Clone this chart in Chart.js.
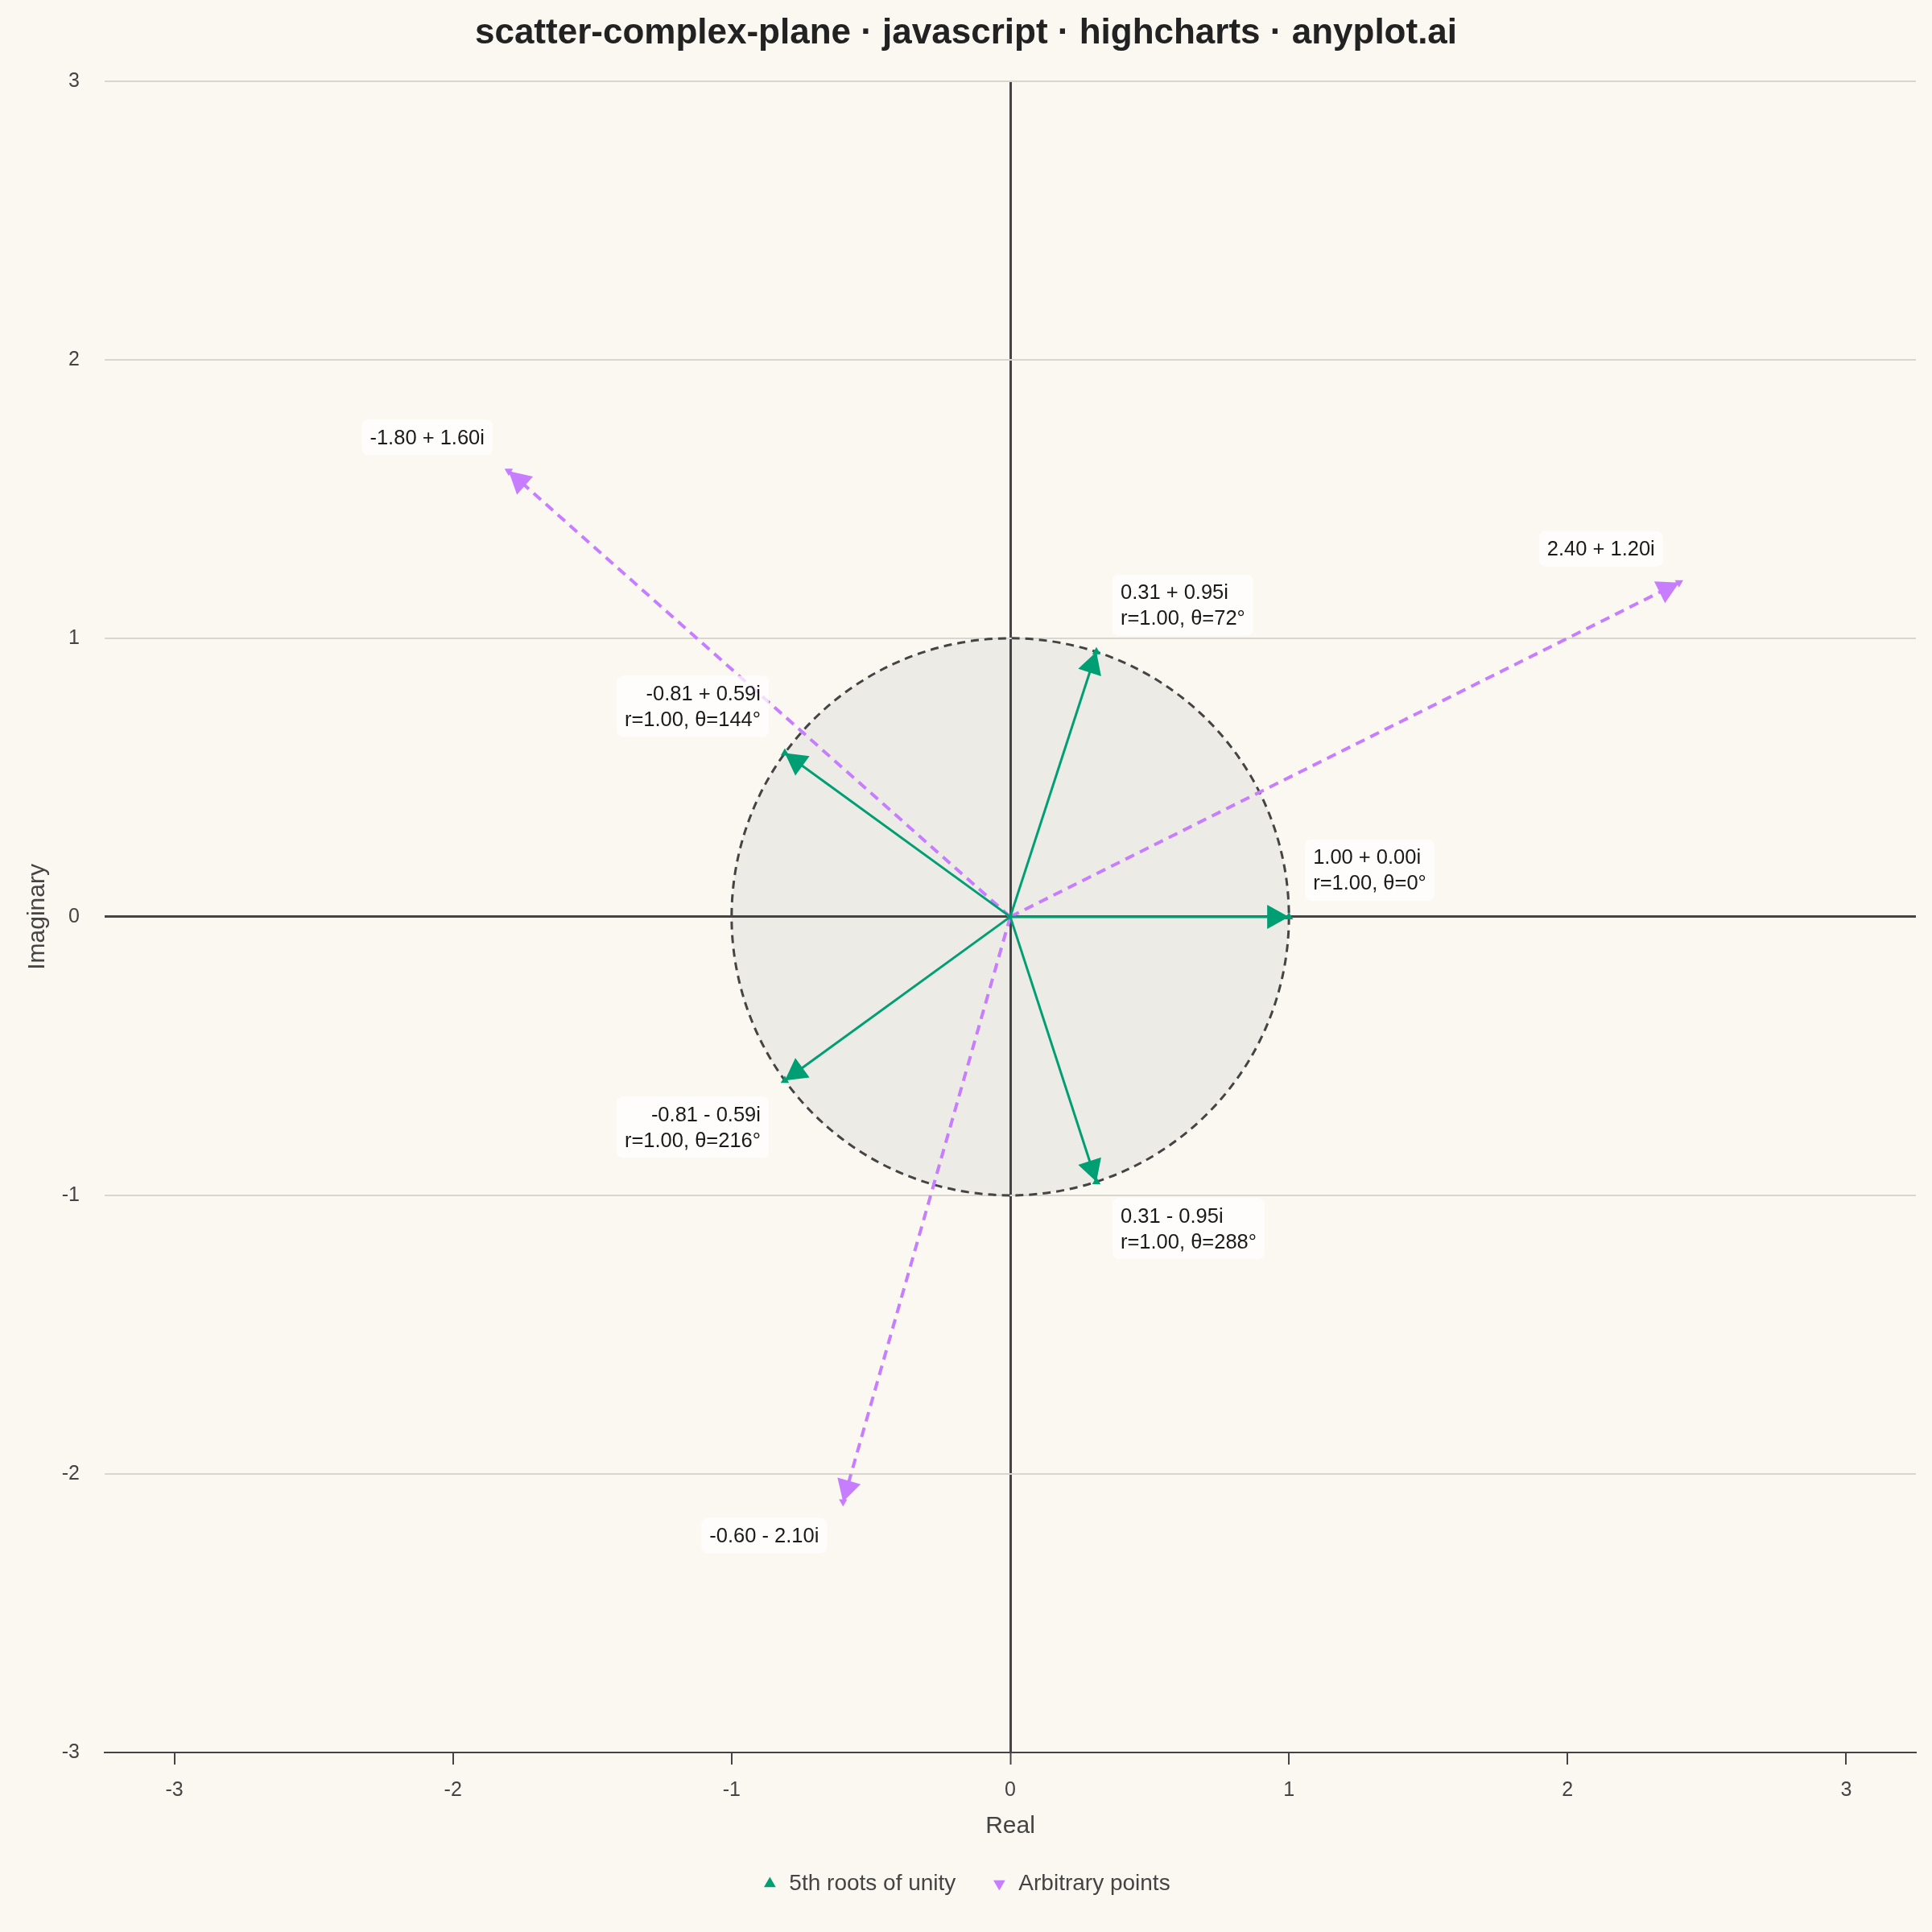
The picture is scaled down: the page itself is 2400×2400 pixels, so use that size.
<!DOCTYPE html>
<html>
<head>
<meta charset="utf-8">
<style>
  html, body { margin: 0; padding: 0; background: #FAF8F1; }
  #wrap { width: 2400px; height: 2400px; }
  canvas { display: block; }
</style>
<script src="https://cdn.jsdelivr.net/npm/chart.js@4.4.1/dist/chart.umd.min.js"></script>
</head>
<body>
<div id="wrap"><canvas id="chart" width="2400" height="2400"></canvas></div>
<script>
// ---------------- data ----------------
const TITLE = 'scatter-complex-plane · javascript · highcharts · anyplot.ai';
const SERIES_NAMES = ['5th roots of unity', 'Arbitrary points'];
const ROOTS_RE = [1.0000, 0.3090, -0.8090, -0.8090, 0.3090];
const ROOTS_IM = [0.0000, 0.9511, 0.5878, -0.5878, -0.9511];
const ARB_RE = [2.4, -1.8, -0.6];
const ARB_IM = [1.2, 1.6, -2.1];
const X_TICKS = [-3, -2, -1, 0, 1, 2, 3];
const Y_TICKS = [-3, -2, -1, 0, 1, 2, 3];
const X_RANGE = [-3.25, 3.25];
const Y_RANGE = [-3, 3];
const UNIT_RADIUS = 1;
const X_TITLE = 'Real';
const Y_TITLE = 'Imaginary';

// ---------------- style ----------------
const BG = '#FAF8F1';
const GREEN = '#009E73';
const PURPLE = '#C77DFF';
const INK = '#444444';
const GRID = '#D9D6CE';
const CIRCLE_FILL = '#EDEBE5';
const FONT = '"Liberation Sans", Arial, Helvetica, sans-serif';

const toPts = (re, im) => re.map((x, i) => ({ x: x, y: im[i] }));
const rootPts = toPts(ROOTS_RE, ROOTS_IM);
const arbPts = toPts(ARB_RE, ARB_IM);

function fmtComplex(re, im) {
  const sign = im < 0 ? '-' : '+';
  return re.toFixed(2) + ' ' + sign + ' ' + Math.abs(im).toFixed(2) + 'i';
}
function fmtPolar(re, im) {
  const r = Math.hypot(re, im);
  let th = Math.atan2(im, re) * 180 / Math.PI;
  if (th < 0) th += 360;
  return 'r=' + r.toFixed(2) + ', θ=' + Math.round(th) + '°';
}

const datasets = [
  {
    label: SERIES_NAMES[0], data: rootPts, showLine: false,
    pointStyle: 'triangle', pointRadius: 6, pointRotation: 0,
    backgroundColor: GREEN, borderColor: GREEN, pointBorderWidth: 0, borderWidth: 0,
    labelKind: 'root'
  },
  {
    label: SERIES_NAMES[1], data: arbPts, showLine: false,
    pointStyle: 'triangle', pointRadius: 6, pointRotation: 180,
    backgroundColor: PURPLE, borderColor: PURPLE, pointBorderWidth: 0, borderWidth: 0,
    labelKind: 'arb'
  }
];
rootPts.forEach(p => datasets.push({
  label: '_vec', isVector: true, data: [{ x: 0, y: 0 }, p], showLine: true,
  borderColor: GREEN, backgroundColor: GREEN, borderWidth: 3, pointRadius: 0, tension: 0, fill: false
}));
arbPts.forEach(p => datasets.push({
  label: '_vec', isVector: true, data: [{ x: 0, y: 0 }, p], showLine: true,
  borderColor: PURPLE, backgroundColor: PURPLE, borderWidth: 4, borderDash: [12, 8],
  pointRadius: 0, tension: 0, fill: false
}));

// ---------------- plugins ----------------
const unitCirclePlugin = {
  id: 'unitCircle',
  beforeDraw(chart) {
    const { ctx, scales: { x, y } } = chart;
    ctx.save();
    ctx.fillStyle = BG;
    ctx.fillRect(0, 0, chart.width, chart.height);
    const cx = x.getPixelForValue(0), cy = y.getPixelForValue(0);
    const rx = Math.abs(x.getPixelForValue(UNIT_RADIUS) - cx);
    const ry = Math.abs(y.getPixelForValue(UNIT_RADIUS) - cy);
    ctx.beginPath();
    ctx.ellipse(cx, cy, rx, ry, 0, 0, Math.PI * 2);
    ctx.fillStyle = CIRCLE_FILL;
    ctx.fill();
    ctx.restore();
  },
  beforeDatasetsDraw(chart) {
    const { ctx, scales: { x, y } } = chart;
    const cx = x.getPixelForValue(0), cy = y.getPixelForValue(0);
    const rx = Math.abs(x.getPixelForValue(UNIT_RADIUS) - cx);
    const ry = Math.abs(y.getPixelForValue(UNIT_RADIUS) - cy);
    ctx.save();
    ctx.beginPath();
    ctx.ellipse(cx, cy, rx, ry, 0, 0, Math.PI * 2);
    ctx.setLineDash([10, 7]);
    ctx.lineWidth = 3;
    ctx.strokeStyle = INK;
    ctx.stroke();
    ctx.restore();
  }
};

const arrowPlugin = {
  id: 'arrowHeads',
  afterDatasetDraw(chart, args) {
    const ds = chart.data.datasets[args.index];
    if (!ds.isVector) return;
    const pts = args.meta.data;
    const a = pts[0], b = pts[1];
    const ang = Math.atan2(b.y - a.y, b.x - a.x);
    const L = 27, W = 15;
    const c = Math.cos(ang), s = Math.sin(ang);
    const bx = b.x - L * c, by = b.y - L * s;
    const ctx = chart.ctx;
    ctx.save();
    ctx.beginPath();
    ctx.moveTo(b.x, b.y);
    ctx.lineTo(bx - W * s, by + W * c);
    ctx.lineTo(bx + W * s, by - W * c);
    ctx.closePath();
    ctx.fillStyle = ds.borderColor;
    ctx.fill();
    ctx.restore();
  }
};

const labelPlugin = {
  id: 'pointLabels',
  afterDatasetsDraw(chart) {
    const ctx = chart.ctx;
    const FS = 25.5, LH = 32, PADX = 10, PADY = 6, OFF = 20;
    ctx.save();
    ctx.font = FS + 'px ' + FONT;
    ctx.textBaseline = 'middle';
    chart.data.datasets.forEach((ds, di) => {
      if (!ds.labelKind) return;
      const meta = chart.getDatasetMeta(di);
      ds.data.forEach((p, i) => {
        const el = meta.data[i];
        const lines = ds.labelKind === 'root'
          ? [fmtComplex(p.x, p.y), fmtPolar(p.x, p.y)]
          : [fmtComplex(p.x, p.y)];
        const w = Math.max(...lines.map(t => ctx.measureText(t).width));
        const bw = w + 2 * PADX, bh = lines.length * LH + 2 * PADY;
        const right = ds.labelKind === 'root' ? p.x >= 0 : false;
        const above = p.y >= 0;
        const bx = right ? el.x + OFF : el.x - OFF - bw;
        const by = above ? el.y - OFF - bh : el.y + OFF;
        ctx.beginPath();
        ctx.roundRect(bx, by, bw, bh, 8);
        ctx.fillStyle = 'rgba(255,255,255,0.75)';
        ctx.fill();
        ctx.fillStyle = '#1a1a1a';
        ctx.textAlign = right ? 'left' : 'right';
        const tx = right ? bx + PADX : bx + bw - PADX;
        lines.forEach((t, k) => {
          ctx.fillText(t, tx, by + PADY + LH * k + LH / 2 + 1.5);
        });
      });
    });
    ctx.restore();
  }
};

// ---------------- chart ----------------
const isZero = v => Math.abs(v) < 1e-9;

new Chart(document.getElementById('chart'), {
  type: 'scatter',
  data: { datasets: datasets },
  plugins: [unitCirclePlugin, arrowPlugin, labelPlugin],
  options: {
    responsive: false,
    devicePixelRatio: 1,
    animation: false,
    events: [],
    layout: { padding: { left: 0, right: 0, top: 0, bottom: 36 } },
    plugins: {
      title: {
        display: true, text: TITLE, color: '#222222',
        font: { family: FONT, size: 44, weight: 'bold' },
        padding: { top: 15, bottom: 33 }
      },
      legend: {
        display: true, position: 'bottom',
        labels: {
          usePointStyle: true, boxWidth: 20, boxHeight: 12, padding: 44,
          color: INK, font: { family: FONT, size: 28 },
          filter: (item, data) => !data.datasets[item.datasetIndex].isVector
        }
      },
      tooltip: { enabled: false }
    },
    scales: {
      x: {
        type: 'linear', position: 'bottom', min: X_RANGE[0], max: X_RANGE[1],
        afterBuildTicks: s => { s.ticks = X_TICKS.map(v => ({ value: v })); },
        afterFit: s => { s.height = 105; },
        grid: {
          display: true, drawOnChartArea: true, drawTicks: true, tickLength: 15,
          color: c => (c.tick && isZero(c.tick.value)) ? INK : 'rgba(0,0,0,0)',
          lineWidth: c => (c.tick && isZero(c.tick.value)) ? 3 : 2,
          tickColor: INK, tickWidth: 2
        },
        border: { display: true, color: INK, width: 2 },
        ticks: {
          color: INK, font: { family: FONT, size: 25 }, padding: 17,
          maxRotation: 0, autoSkip: false, callback: v => String(v)
        },
        title: {
          display: true, text: X_TITLE, color: INK,
          font: { family: FONT, size: 30 }, padding: { top: 0, bottom: -5 }
        }
      },
      y: {
        type: 'linear', position: 'left', min: Y_RANGE[0], max: Y_RANGE[1],
        afterBuildTicks: s => { s.ticks = Y_TICKS.map(v => ({ value: v })); },
        afterFit: s => { s.width = 130; },
        grid: {
          display: true, drawOnChartArea: true, drawTicks: false,
          color: c => (c.tick && isZero(c.tick.value)) ? INK : GRID,
          lineWidth: c => (c.tick && isZero(c.tick.value)) ? 3 : 2
        },
        border: { display: false },
        ticks: {
          color: INK, font: { family: FONT, size: 25 }, padding: 31,
          autoSkip: false, callback: v => String(v)
        },
        title: {
          display: true, text: Y_TITLE, color: INK,
          font: { family: FONT, size: 30 }, padding: { top: 29, bottom: 0 }
        }
      },
      yRightGutter: {
        type: 'linear', position: 'right', min: Y_RANGE[0], max: Y_RANGE[1],
        afterFit: s => { s.width = 20; },
        grid: { display: false, drawOnChartArea: false, drawTicks: false },
        border: { display: false },
        ticks: { display: false },
        title: { display: false }
      }
    }
  }
});
</script>
</body>
</html>
